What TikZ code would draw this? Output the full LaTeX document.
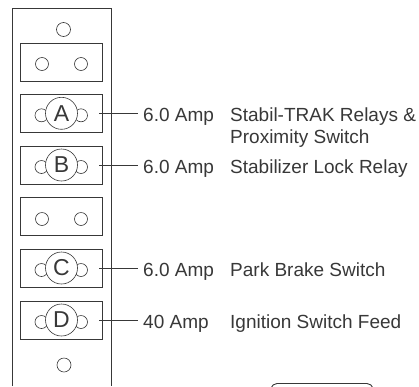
\documentclass[tikz,border=0pt]{standalone}
\usepackage{fontspec}
\setmainfont{Liberation Sans}
\usepackage{tikz}
\usetikzlibrary{positioning}
\definecolor{inkgray}{gray}{0.22}
\tikzset{
  fusebox/.style={draw=inkgray, line width=0.9pt, minimum width=82pt, minimum height=38pt, inner sep=0pt},
  pin/.style={circle, draw=inkgray, line width=0.6pt, fill=white, minimum size=13pt, inner sep=0pt},
  fuse/.style={circle, draw=inkgray, line width=0.6pt, fill=white, minimum size=32pt, inner sep=0pt, font=\fontsize{23}{23}\selectfont, text=inkgray},
  lead/.style={draw=inkgray, line width=0.7pt, shorten >=5pt},
  amp/.style={anchor=base west, inner sep=0pt, text=inkgray, font=\fontsize{19}{22}\selectfont},
  load/.style={amp, align=left}
}
\begin{document}
\begin{tikzpicture}[x=1pt,y=-1pt]
\useasboundingbox (0,0) rectangle (419,386);
% panel
\draw[draw=inkgray, line width=1pt] (12,386)--(12,8)--(111,8)--(111,386);
\node[pin, minimum size=14pt] (top) at (63.5,29.5) {};
\node[pin, minimum size=14pt] (bottom) at (64,365) {};
% empty slots
\node[fusebox] (s1) at (61,62) {};
\node[fusebox] (s2) at (61,216.5) {};
\node[pin] (s1l) at (42,64) {}; \node[pin] (s1r) at (81,64) {};
\node[pin] (s2l) at (42,219) {}; \node[pin] (s2r) at (81,219) {};
% fuses
\foreach \nm/\yy/\rating in {A/113.3/6.0 Amp,B/165/6.0 Amp,C/268/6.0 Amp,D/320/40 Amp}{
  \node[fusebox] (box\nm) at (61,\yy) {};
  \node[pin] (l\nm) at (41.5,\yy+2) {};
  \node[pin] (r\nm) at (81,\yy+2) {};
  \node[fuse] (f\nm) at (61.5,\yy) {\nm};
  \coordinate (t\nm) at (99,\yy);
  \node[amp] (a\nm) at (143,\yy+8.3) {\rating};
  \draw[lead] (t\nm)--(t\nm -| a\nm.west);
}
% loads
\node[load] (n1) at (230,121) {Stabil-TRAK Relays \&};
\node[load] (n1b) at (230,143.3) {Proximity Switch};
\node[load] (n2) at (230,173.3) {Stabilizer Lock Relay};
\node[load] (n3) at (230,276.3) {Park Brake Switch};
\node[load] (n4) at (230,328.3) {Ignition Switch Feed};
\draw[draw=inkgray, line width=0.9pt, rounded corners=5pt] (270,392)--(272,383.5)--(372,383.5)--(374,392);
\end{tikzpicture}
\end{document}
